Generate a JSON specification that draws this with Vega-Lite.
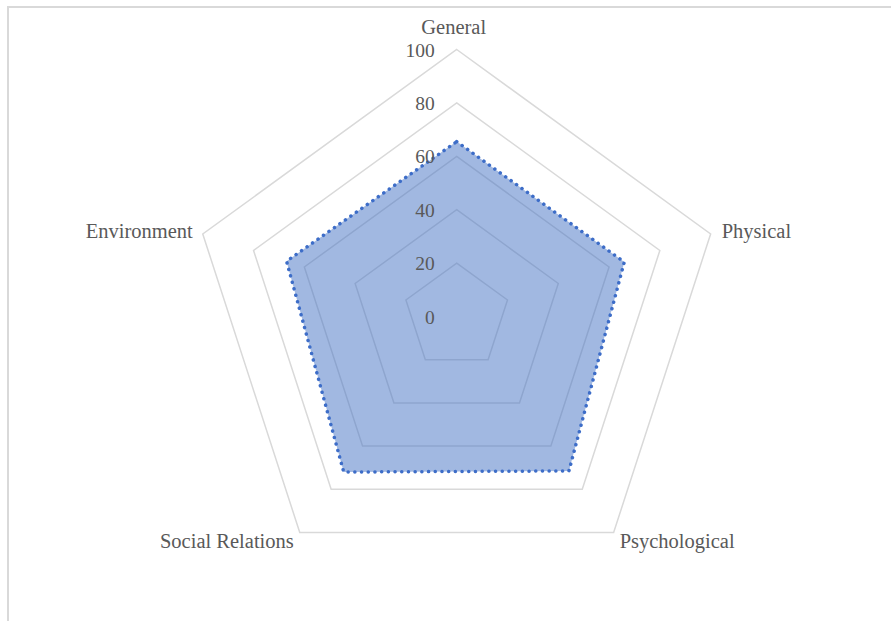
{
  "$schema": "https://vega.github.io/schema/vega-lite/v6.json",
  "width": 884,
  "height": 615,
  "padding": {"left": 8, "top": 7, "right": 0, "bottom": 0},
  "autosize": {"type": "none"},
  "background": "white",
  "config": {"view": {"stroke": "#D9D9D9", "strokeWidth": 2}},
  "datasets": {
    "scores": [
      {"axis": "General", "value": 65.5},
      {"axis": "Physical", "value": 66},
      {"axis": "Psychological", "value": 71.5},
      {"axis": "Social Relations", "value": 72},
      {"axis": "Environment", "value": 67}
    ],
    "rings": [
      {"level": 20, "axis": ["General", "Physical", "Psychological", "Social Relations", "Environment"]},
      {"level": 40, "axis": ["General", "Physical", "Psychological", "Social Relations", "Environment"]},
      {"level": 60, "axis": ["General", "Physical", "Psychological", "Social Relations", "Environment"]},
      {"level": 80, "axis": ["General", "Physical", "Psychological", "Social Relations", "Environment"]},
      {"level": 100, "axis": ["General", "Physical", "Psychological", "Social Relations", "Environment"]}
    ],
    "levels": [
      {"level": 0}, {"level": 20}, {"level": 40}, {"level": 60}, {"level": 80}, {"level": 100}
    ]
  },
  "encoding": {
    "x": {"field": "x", "type": "quantitative", "scale": {"domain": [-168.05, 163.03], "nice": false, "zero": false}, "axis": null},
    "y": {"field": "y", "type": "quantitative", "scale": {"domain": [-114.42, 115.92], "nice": false, "zero": false}, "axis": null}
  },
  "layer": [
    {
      "data": {"name": "rings"},
      "transform": [
        {"flatten": ["axis"]},
        {"calculate": "indexof(['General','Physical','Psychological','Social Relations','Environment'], datum.axis)", "as": "idx"},
        {"calculate": "datum.idx * 2 * PI / 5", "as": "ang"},
        {"calculate": "datum.level * sin(datum.ang)", "as": "x"},
        {"calculate": "datum.level * cos(datum.ang)", "as": "y"}
      ],
      "mark": {"type": "line", "interpolate": "linear-closed", "stroke": "#D9D9D9", "strokeWidth": 1.5},
      "encoding": {
        "detail": {"field": "level", "type": "nominal"},
        "order": {"field": "idx", "type": "quantitative"}
      }
    },
    {
      "data": {"name": "scores"},
      "transform": [
        {"calculate": "indexof(['General','Physical','Psychological','Social Relations','Environment'], datum.axis)", "as": "idx"},
        {"calculate": "datum.idx * 2 * PI / 5", "as": "ang"},
        {"calculate": "datum.value * sin(datum.ang)", "as": "x"},
        {"calculate": "datum.value * cos(datum.ang)", "as": "y"}
      ],
      "mark": {"type": "line", "interpolate": "linear-closed", "fill": "#4472C4", "fillOpacity": 0.5, "stroke": "#3D6DC8", "strokeWidth": 3.5, "strokeDash": [0.1, 6.6], "strokeCap": "round"},
      "encoding": {
        "order": {"field": "idx", "type": "quantitative"}
      }
    },
    {
      "data": {"name": "levels"},
      "transform": [
        {"calculate": "0", "as": "x"},
        {"calculate": "datum.level", "as": "y"}
      ],
      "mark": {"type": "text", "align": "right", "baseline": "middle", "dx": -22, "dy": 1, "font": "Liberation Serif", "fontSize": 19.5, "fill": "#595959"},
      "encoding": {
        "text": {"field": "level", "type": "quantitative"}
      }
    },
    {
      "data": {"name": "scores"},
      "transform": [
        {"filter": "datum.axis == 'General'"},
        {"calculate": "0", "as": "x"},
        {"calculate": "100", "as": "y"}
      ],
      "mark": {"type": "text", "align": "center", "baseline": "middle", "dx": -3, "dy": -22, "font": "Liberation Serif", "fontSize": 20.5, "fill": "#595959"},
      "encoding": {"text": {"field": "axis"}}
    },
    {
      "data": {"name": "scores"},
      "transform": [
        {"filter": "datum.axis == 'Physical'"},
        {"calculate": "100 * sin(2 * PI / 5)", "as": "x"},
        {"calculate": "100 * cos(2 * PI / 5)", "as": "y"}
      ],
      "mark": {"type": "text", "align": "left", "baseline": "middle", "dx": 11, "dy": -2, "font": "Liberation Serif", "fontSize": 20.5, "fill": "#595959"},
      "encoding": {"text": {"field": "axis"}}
    },
    {
      "data": {"name": "scores"},
      "transform": [
        {"filter": "datum.axis == 'Psychological'"},
        {"calculate": "100 * sin(4 * PI / 5)", "as": "x"},
        {"calculate": "100 * cos(4 * PI / 5)", "as": "y"}
      ],
      "mark": {"type": "text", "align": "left", "baseline": "middle", "dx": 6, "dy": 9, "font": "Liberation Serif", "fontSize": 20.5, "fill": "#595959"},
      "encoding": {"text": {"field": "axis"}}
    },
    {
      "data": {"name": "scores"},
      "transform": [
        {"filter": "datum.axis == 'Social Relations'"},
        {"calculate": "100 * sin(6 * PI / 5)", "as": "x"},
        {"calculate": "100 * cos(6 * PI / 5)", "as": "y"}
      ],
      "mark": {"type": "text", "align": "right", "baseline": "middle", "dx": -6, "dy": 9, "font": "Liberation Serif", "fontSize": 20.5, "fill": "#595959"},
      "encoding": {"text": {"field": "axis"}}
    },
    {
      "data": {"name": "scores"},
      "transform": [
        {"filter": "datum.axis == 'Environment'"},
        {"calculate": "100 * sin(8 * PI / 5)", "as": "x"},
        {"calculate": "100 * cos(8 * PI / 5)", "as": "y"}
      ],
      "mark": {"type": "text", "align": "right", "baseline": "middle", "dx": -10, "dy": -2, "font": "Liberation Serif", "fontSize": 20.5, "fill": "#595959"},
      "encoding": {"text": {"field": "axis"}}
    }
  ]
}
